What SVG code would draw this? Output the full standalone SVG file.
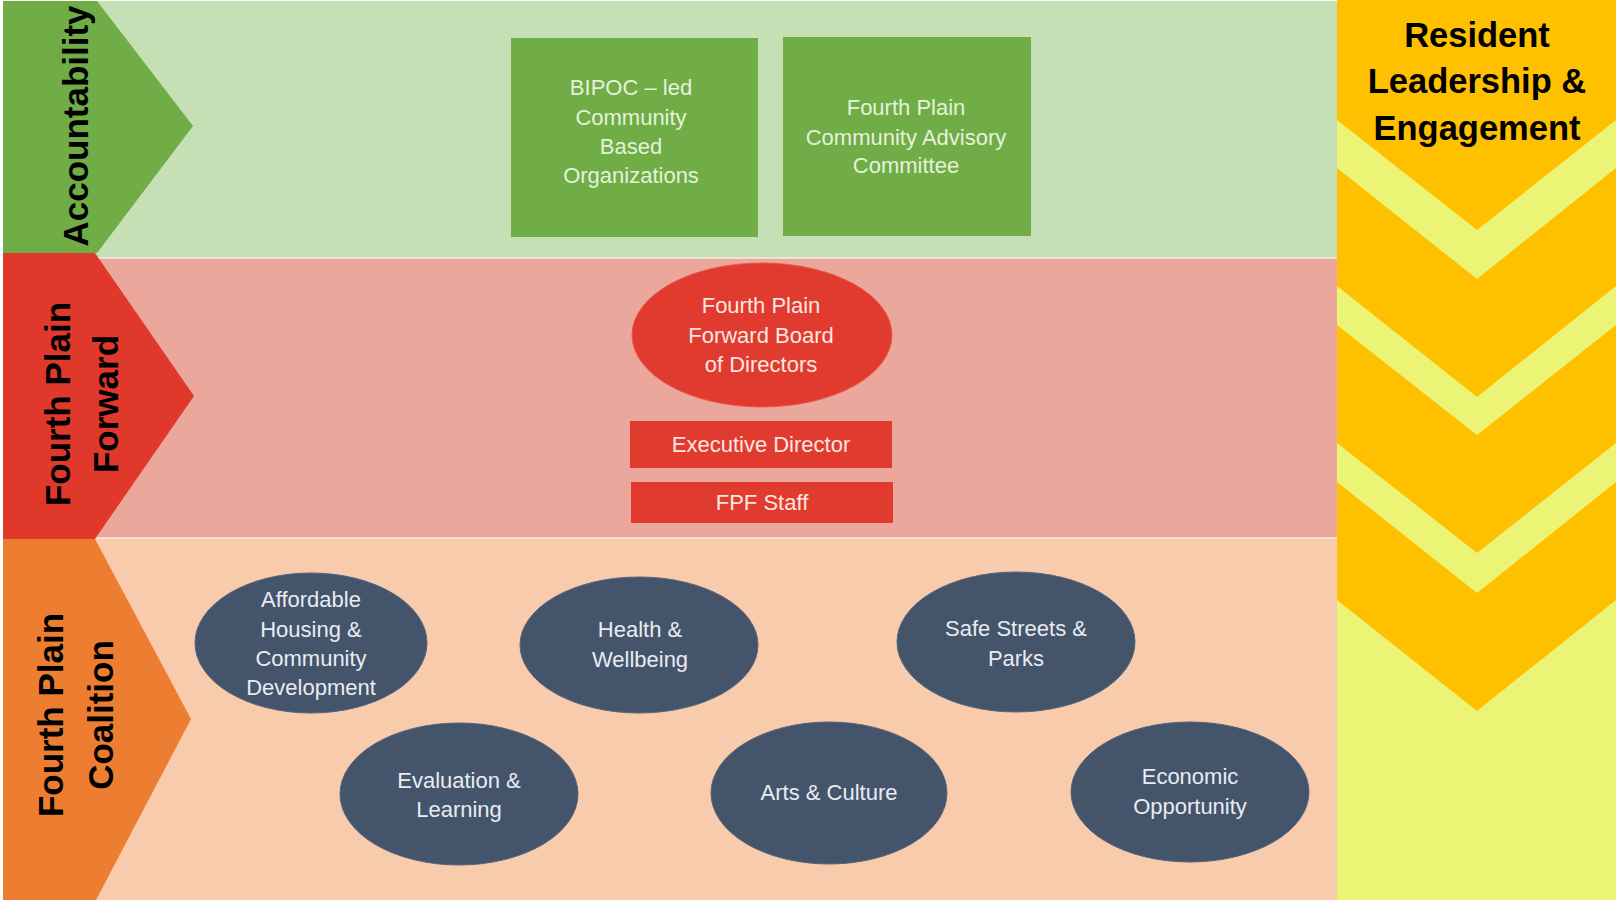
<svg xmlns="http://www.w3.org/2000/svg" width="1616" height="900" viewBox="0 0 1616 900">
<style>
.lbl{font-family:"Liberation Sans",Arial,sans-serif;font-size:22px;text-anchor:middle}
.side{font-family:"Liberation Sans",Arial,sans-serif;font-size:35px;font-weight:bold;fill:#000;text-anchor:middle}
.res{font-family:"Liberation Sans",Arial,sans-serif;font-size:34.5px;font-weight:bold;fill:#000;text-anchor:middle}
.gtxt{fill:#E4F2DA}
.rtxt{fill:#FCE6E0}
.btxt{fill:#E8ECF2}
.blue{fill:#44546A;stroke:#56657A;stroke-width:1}
.green{fill:#70AD47}
.red{fill:#E03B2E}
.orng{fill:#FFC000}
</style>
<rect width="1616" height="900" fill="#ffffff"/>
<g id="bands">
<rect x="3" y="1" width="1334" height="257" fill="#C5E0B4"/>
<rect x="3" y="258" width="1334" height="280" fill="#EBA79C"/>
<rect x="3" y="538" width="1334" height="362" fill="#F8CBAD"/>
<line x1="3" y1="258" x2="1337" y2="258" stroke="#F4EDE6" stroke-width="1.5"/>
<line x1="3" y1="538" x2="1337" y2="538" stroke="#F6ECE4" stroke-width="1.5"/>
</g>
<g id="chevron-accountability">
<polygon points="3,1 97,1 193,126 97,253 3,253" class="green"/>
<text class="side" transform="translate(88,126) rotate(-90)">Accountability</text>
</g>
<g id="chevron-fpf">
<polygon points="3,253 95,253 194,396 95,539 3,539" fill="#E0382B"/>
<text class="side" transform="translate(70,404) rotate(-90)">Fourth Plain</text>
<text class="side" transform="translate(118,404) rotate(-90)">Forward</text>
</g>
<g id="chevron-coalition">
<polygon points="3,539 95,539 191,719 96,900 3,900" fill="#ED7D31"/>
<text class="side" transform="translate(63,715) rotate(-90)">Fourth Plain</text>
<text class="side" transform="translate(113,715) rotate(-90)">Coalition</text>
</g>
<g id="resident-leadership">
<rect x="1337" y="0" width="279" height="900" fill="#ECF475"/>
<polygon class="orng" points="1337,0 1616,0 1616,120 1477,230 1337,120"/>
<polygon class="orng" points="1337,168 1477,279 1616,168 1616,286 1477,397 1337,286"/>
<polygon class="orng" points="1337,325 1477,435 1616,325 1616,443 1477,553 1337,443"/>
<polygon class="orng" points="1337,482 1477,593 1616,482 1616,600 1477,711 1337,600"/>
<text class="res" x="1477" y="47">Resident</text>
<text class="res" x="1477" y="93">Leadership &amp;</text>
<text class="res" x="1477" y="140">Engagement</text>
</g>
<g id="node-bipoc">
<rect x="511" y="38" width="247" height="199" class="green"/>
<text class="lbl gtxt" x="631" y="95">BIPOC – led</text>
<text class="lbl gtxt" x="631" y="125">Community</text>
<text class="lbl gtxt" x="631" y="154">Based</text>
<text class="lbl gtxt" x="631" y="183">Organizations</text>
</g>
<g id="node-cac">
<rect x="783" y="37" width="248" height="199" class="green"/>
<text class="lbl gtxt" x="906" y="115">Fourth Plain</text>
<text class="lbl gtxt" x="906" y="145">Community Advisory</text>
<text class="lbl gtxt" x="906" y="173">Committee</text>
</g>
<g id="node-board">
<ellipse cx="762" cy="335" rx="130" ry="72" class="red" stroke="#E8584C" stroke-width="1"/>
<text class="lbl rtxt" x="761" y="313">Fourth Plain</text>
<text class="lbl rtxt" x="761" y="343">Forward Board</text>
<text class="lbl rtxt" x="761" y="372">of Directors</text>
</g>
<g id="node-exec">
<rect x="630" y="421" width="262" height="47" class="red"/>
<text class="lbl rtxt" x="761" y="452">Executive Director</text>
</g>
<g id="node-staff">
<rect x="631" y="482" width="262" height="41" class="red"/>
<text class="lbl rtxt" x="762" y="510">FPF Staff</text>
</g>
<g id="node-housing">
<ellipse cx="311" cy="643" rx="116" ry="70" class="blue"/>
<text class="lbl btxt" x="311" y="607">Affordable</text>
<text class="lbl btxt" x="311" y="637">Housing &amp;</text>
<text class="lbl btxt" x="311" y="666">Community</text>
<text class="lbl btxt" x="311" y="695">Development</text>
</g>
<g id="node-health">
<ellipse cx="639" cy="645" rx="119" ry="68" class="blue"/>
<text class="lbl btxt" x="640" y="637">Health &amp;</text>
<text class="lbl btxt" x="640" y="667">Wellbeing</text>
</g>
<g id="node-safe">
<ellipse cx="1016" cy="642" rx="119" ry="70" class="blue"/>
<text class="lbl btxt" x="1016" y="636">Safe Streets &amp;</text>
<text class="lbl btxt" x="1016" y="666">Parks</text>
</g>
<g id="node-eval">
<ellipse cx="459" cy="794" rx="119" ry="71" class="blue"/>
<text class="lbl btxt" x="459" y="788">Evaluation &amp;</text>
<text class="lbl btxt" x="459" y="817">Learning</text>
</g>
<g id="node-arts">
<ellipse cx="829" cy="793" rx="118" ry="71" class="blue"/>
<text class="lbl btxt" x="829" y="800">Arts &amp; Culture</text>
</g>
<g id="node-economic">
<ellipse cx="1190" cy="792" rx="119" ry="70" class="blue"/>
<text class="lbl btxt" x="1190" y="784">Economic</text>
<text class="lbl btxt" x="1190" y="814">Opportunity</text>
</g>
<g id="connectors"></g>
</svg>
